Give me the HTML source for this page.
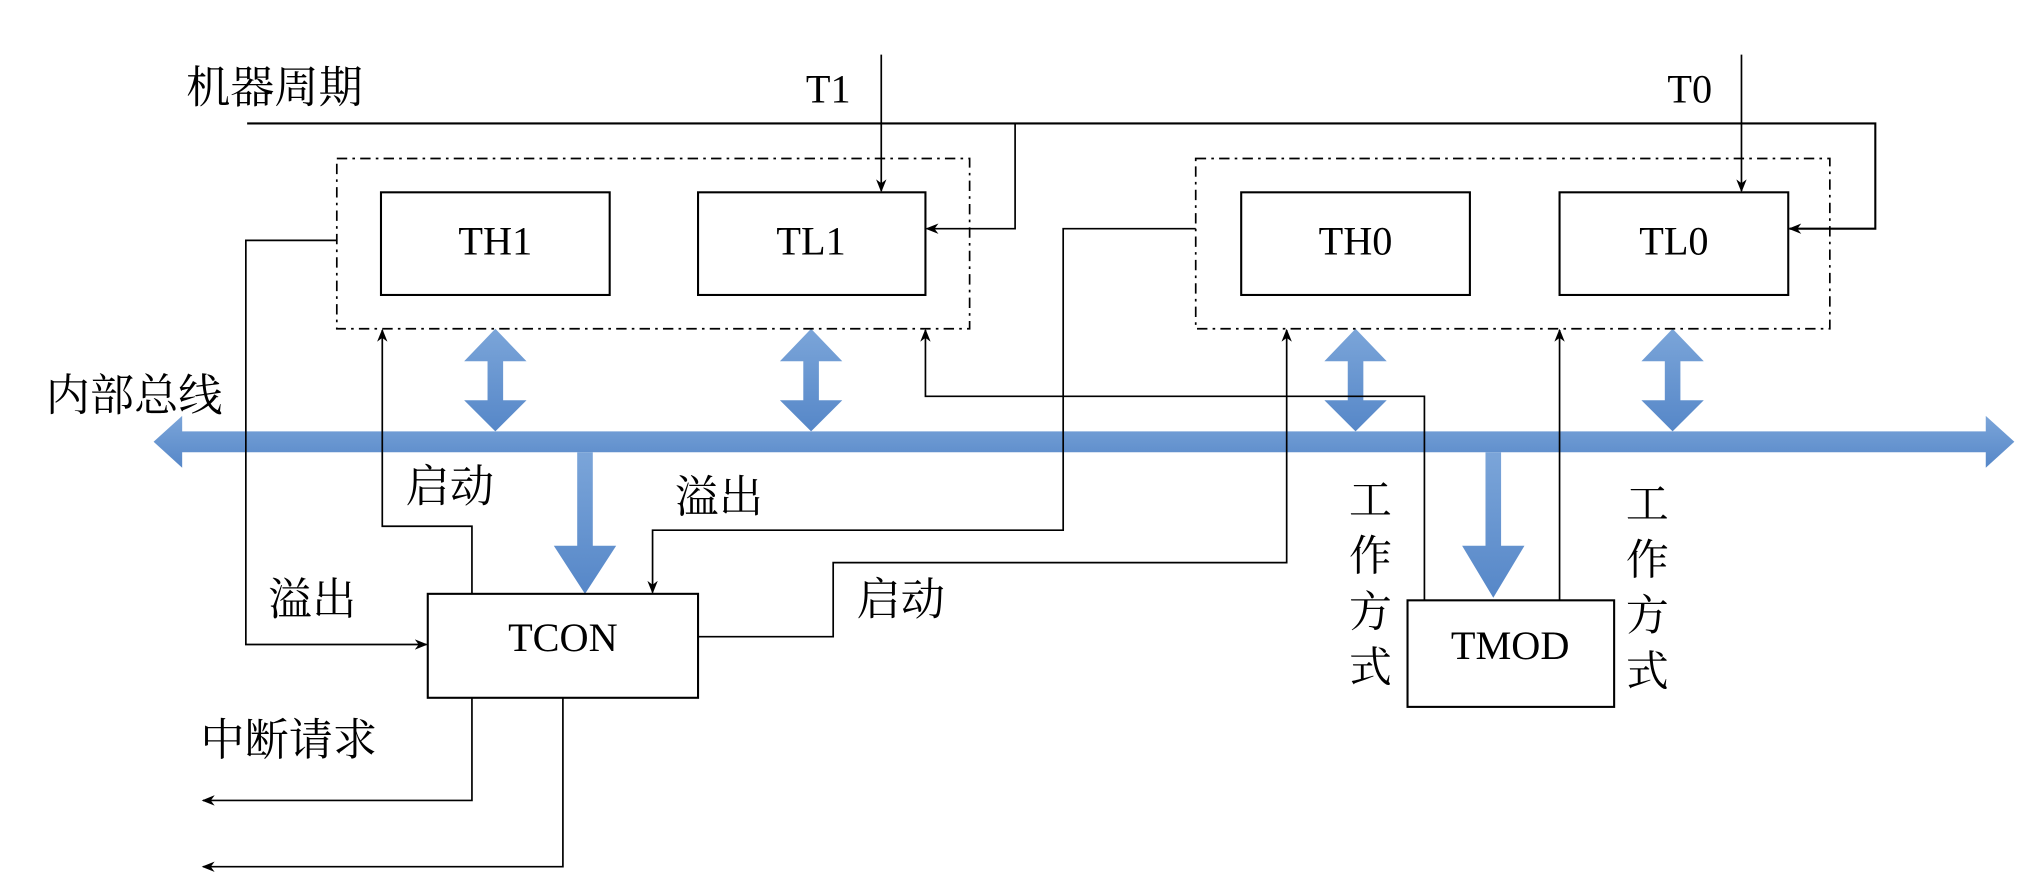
<!DOCTYPE html>
<html><head><meta charset="utf-8"><style>html,body{margin:0;padding:0;background:#fff}svg{display:block}</style></head>
<body>
<svg width="2038" height="894" viewBox="0 0 1568 688" xmlns="http://www.w3.org/2000/svg">
<defs>
<marker id="a" markerWidth="10" markerHeight="8" refX="9" refY="4" orient="auto" markerUnits="userSpaceOnUse"><path d="M0,0 L10,4 L0,8 L3,4 z" fill="#000"/></marker>
<linearGradient id="g" x1="0" y1="0" x2="0" y2="1"><stop offset="0" stop-color="#7ba5d9"/><stop offset="1" stop-color="#5687c8"/></linearGradient>
</defs>
<g font-family="'Liberation Serif','Noto Serif CJK SC',serif" fill="#000">
<text x="143" y="79" font-size="34">机器周期</text>
<text x="620" y="79" font-size="31">T1</text>
<text x="1283" y="79" font-size="31">T0</text>
<text x="35" y="316" font-size="34">内部总线</text>
<text x="312" y="386" font-size="34">启动</text>
<text x="519" y="394" font-size="34">溢出</text>
<text x="206" y="473" font-size="34">溢出</text>
<text x="659" y="473" font-size="34">启动</text>
<text x="154" y="581" font-size="34">中断请求</text>
<text font-size="33" x="1038" y="396">工</text><text font-size="33" x="1038" y="439">作</text><text font-size="33" x="1038" y="482">方</text><text font-size="33" x="1038" y="525">式</text>
<text font-size="33" x="1251" y="399">工</text><text font-size="33" x="1251" y="442">作</text><text font-size="33" x="1251" y="485">方</text><text font-size="33" x="1251" y="528">式</text>
<text x="381" y="196" font-size="31" text-anchor="middle">TH1</text>
<text x="624" y="196" font-size="31" text-anchor="middle">TL1</text>
<text x="1043" y="196" font-size="31" text-anchor="middle">TH0</text>
<text x="1288" y="196" font-size="31" text-anchor="middle">TL0</text>
<text x="433" y="501" font-size="31" text-anchor="middle">TCON</text>
<text x="1162" y="507" font-size="31" text-anchor="middle">TMOD</text>
</g>
<path d="M118,340 L140,320 L140,332 L1528,332 L1528,320 L1550,340 L1528,360 L1528,348 L140,348 L140,360 Z" fill="url(#g)"/>
<g fill="url(#g)">
<path d="M381,253 L405,278 L387,278 L387,308 L405,308 L381,332 L357,308 L375,308 L375,278 L357,278 Z"/>
<path d="M624,253 L648,278 L630,278 L630,308 L648,308 L624,332 L600,308 L618,308 L618,278 L600,278 Z"/>
<path d="M1043,253 L1067,278 L1049,278 L1049,308 L1067,308 L1043,332 L1019,308 L1037,308 L1037,278 L1019,278 Z"/>
<path d="M1287,253 L1311,278 L1293,278 L1293,308 L1311,308 L1287,332 L1263,308 L1281,308 L1281,278 L1263,278 Z"/>
<path d="M444,348 L456,348 L456,420 L474,420 L450,457 L426,420 L444,420 Z"/>
<path d="M1143,348 L1155,348 L1155,420 L1173,420 L1149,460 L1125,420 L1143,420 Z"/>
</g>
<g fill="none" stroke="#000" stroke-width="1.3">
<rect x="259" y="122" width="487" height="131" stroke-dasharray="8 4 2 4"/>
<rect x="920" y="122" width="488" height="131" stroke-dasharray="8 4 2 4"/>
<rect x="293" y="148" width="176" height="79" stroke-width="1.6"/>
<rect x="537" y="148" width="175" height="79" stroke-width="1.6"/>
<rect x="955" y="148" width="176" height="79" stroke-width="1.6"/>
<rect x="1200" y="148" width="176" height="79" stroke-width="1.6"/>
<rect x="329" y="457" width="208" height="80" stroke-width="1.6"/>
<rect x="1083" y="462" width="159" height="82" stroke-width="1.6"/>
<path d="M190,95 L1443,95 L1443,176 L1377,176" marker-end="url(#a)" stroke-width="1.6"/>
<path d="M781,95 L781,176 L713,176" marker-end="url(#a)"/>
<path d="M678,42 L678,147" marker-end="url(#a)"/>
<path d="M1340,42 L1340,147" marker-end="url(#a)"/>
<path d="M259,185 L189,185 L189,496 L328,496" marker-end="url(#a)"/>
<path d="M363,457 L363,405 L294,405 L294,254" marker-end="url(#a)"/>
<path d="M1096,462 L1096,305 L712,305 L712,254" marker-end="url(#a)"/>
<path d="M920,176 L818,176 L818,408 L502,408 L502,456" marker-end="url(#a)"/>
<path d="M537,490 L641,490 L641,433 L990,433 L990,254" marker-end="url(#a)"/>
<path d="M1200,462 L1200,254" marker-end="url(#a)"/>
<path d="M363,537 L363,616 L156,616" marker-end="url(#a)"/>
<path d="M433,537 L433,667 L156,667" marker-end="url(#a)"/>
</g>
</svg>
</body></html>
